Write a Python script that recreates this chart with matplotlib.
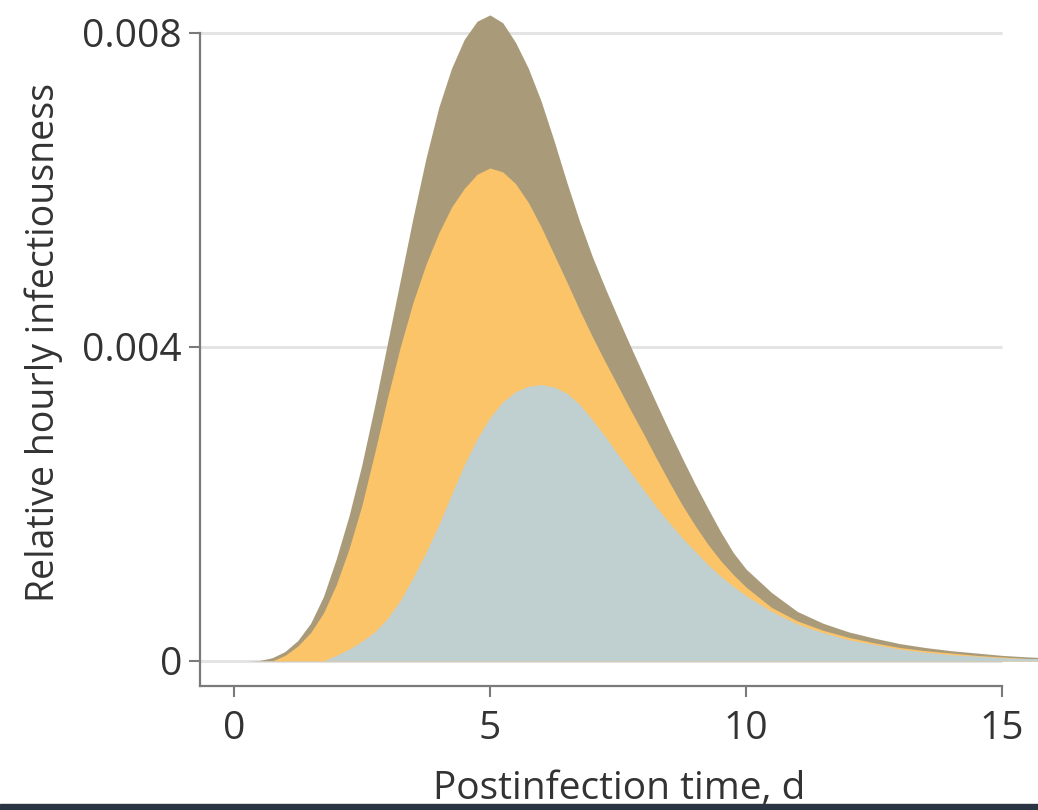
import matplotlib
matplotlib.use("Agg")
from matplotlib import pyplot as plt
from matplotlib.patches import Rectangle

plt.rcParams['font.family'] = ['Open Sans', 'DejaVu Sans']

# postinfection time, days
days = [0.0, 0.25, 0.5, 0.75, 1.0, 1.25, 1.5, 1.75, 2.0, 2.25, 2.5, 2.75,
        3.0, 3.25, 3.5, 3.75, 4.0, 4.25, 4.5, 4.75, 5.0, 5.25, 5.5, 5.75,
        6.0, 6.25, 6.5, 6.75, 7.0, 7.25, 7.5, 7.75, 8.0, 8.25, 8.5, 8.75,
        9.0, 9.25, 9.5, 9.75, 10.0, 10.5, 11.0, 11.5, 12.0, 12.5, 13.0,
        13.5, 14.0, 14.5, 15.0, 15.5, 15.7]

# relative hourly infectiousness (x 1e-3)
total = [0, 0, 0.005, 0.04, 0.12, 0.26, 0.48, 0.82, 1.3, 1.85, 2.5, 3.25,
         4.05, 4.85, 5.65, 6.4, 7.05, 7.55, 7.92, 8.15, 8.23, 8.13, 7.88, 7.55,
         7.13, 6.63, 6.1, 5.6, 5.15, 4.75, 4.37, 4.0, 3.64, 3.28, 2.93, 2.59,
         2.26, 1.95, 1.65, 1.38, 1.17, 0.87, 0.63, 0.48, 0.37, 0.29, 0.22,
         0.17, 0.13, 0.1, 0.07, 0.05, 0.045]
middle = [0, 0, 0, 0.0, 0.07, 0.19, 0.36, 0.61, 0.97, 1.43, 1.98, 2.65,
          3.35, 4.0, 4.57, 5.05, 5.45, 5.78, 6.02, 6.2, 6.28, 6.23, 6.08, 5.84,
          5.53, 5.18, 4.83, 4.47, 4.13, 3.81, 3.5, 3.19, 2.89, 2.58, 2.28, 1.99,
          1.73, 1.49, 1.28, 1.1, 0.94, 0.68, 0.51, 0.39, 0.3, 0.23, 0.17,
          0.13, 0.1, 0.07, 0.05, 0.03, 0.03]
lower = [0, 0, 0, 0, 0, 0, 0, 0.0, 0.07, 0.15, 0.25, 0.37,
         0.54, 0.77, 1.06, 1.38, 1.73, 2.12, 2.5, 2.83, 3.1, 3.3, 3.43, 3.5,
         3.52, 3.49, 3.41, 3.27, 3.07, 2.86, 2.63, 2.4, 2.18, 1.96, 1.76, 1.57,
         1.4, 1.23, 1.08, 0.95, 0.83, 0.63, 0.47, 0.36, 0.27, 0.21, 0.15,
         0.11, 0.08, 0.06, 0.04, 0.03, 0.03]

x_ticks = [0, 5, 10, 15]
y_ticks = [0, 0.004, 0.008]
y_tick_labels = ['0', '0.004', '0.008']

colors = ['#a99b7a', '#fcc469', '#c0d0d1']
text_color = '#333333'
axis_color = '#7a7a7a'

fig = plt.figure(figsize=(10.38, 8.10), dpi=100)
ax = fig.add_axes([0.1927, 0.1531, 0.8073, 0.8469])

xmin, xmax = -0.66, 15.7
ymin, ymax = -0.00032, 0.00842

ax.hlines(y_ticks, xmin, 15, colors='#e4e4e4', linewidth=2.2, zorder=1)

for series, c in zip([total, middle, lower], colors):
    ax.fill_between(days, [v * 1e-3 for v in series], 0, color=c,
                    linewidth=0, zorder=2)

ax.set_xlim(xmin, xmax)
ax.set_ylim(ymin, ymax)
ax.set_xticks(x_ticks)
ax.set_yticks(y_ticks)
ax.set_yticklabels(y_tick_labels)

for s in ['top', 'right']:
    ax.spines[s].set_visible(False)
ax.spines['left'].set_bounds(ymin, 0.008)
ax.spines['bottom'].set_bounds(xmin, 15)
for s in ['left', 'bottom']:
    ax.spines[s].set_color(axis_color)
    ax.spines[s].set_linewidth(1.6)

ax.tick_params(axis='both', colors=axis_color, length=8, width=1.5,
               labelsize=28, labelcolor=text_color)
ax.tick_params(axis='x', pad=9)
ax.tick_params(axis='y', pad=5)

ax.set_xlabel('Postinfection time, d', fontsize=28, color=text_color,
              labelpad=16)
ax.set_ylabel('Relative hourly infectiousness', fontsize=27,
              color=text_color, labelpad=14)

# dark strip along the bottom edge
fig.patches.append(Rectangle((0, 0), 1, 0.008, transform=fig.transFigure,
                             color='#2b3442', zorder=10))

fig.savefig('out.png', dpi=100)
